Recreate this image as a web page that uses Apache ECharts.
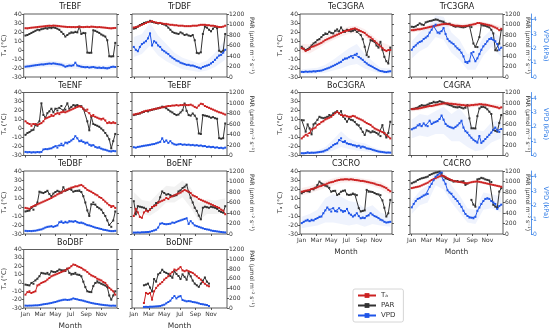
<!DOCTYPE html>
<html><head><meta charset="utf-8">
<script src="https://cdn.jsdelivr.net/npm/echarts@6/dist/echarts.min.js"></script>
<style>html,body{margin:0;padding:0;background:#fff}#c{width:550px;height:331px}</style>
</head><body><div id="c"></div>
<script>
// Day of year of each 8-day composite
const DOY = [1,9,17,25,33,41,49,57,65,73,81,89,97,105,113,121,129,137,145,153,161,169,177,185,193,201,209,217,225,233,241,249,257,265,273,281,289,297,305,313,321,329,337,345,353,361];
// Day of year for the spread (shaded band) values
const BAND_DOY = [1,33,65,97,129,161,193,225,257,289,321,361];
const MONTH_TICKS = [1, 60, 121, 182, 244, 305];
const MONTH_LABELS = ['Jan','Mar','May','Jul','Sep','Nov'];
const VPD_TICKS = [0, 1, 2, 3, 4];

const TrEBF_Ta = [24.2,24.0,24.5,24.8,25.0,25.2,25.5,25.8,26.0,26.2,26.5,26.8,27.0,26.8,27.2,27.0,26.8,26.5,26.2,26.0,25.8,25.5,25.6,25.4,25.5,25.3,25.6,25.8,25.5,25.4,25.6,25.8,25.5,26.0,25.8,25.6,25.3,25.5,25.2,25.0,24.8,24.5,24.2,24.0,24.3,24.5];
const TrEBF_PAR = [790,800,820,840,860,880,900,890,910,920,930,920,940,930,945,935,920,900,860,820,770,800,830,850,845,860,850,960,820,840,835,465,460,462,890,880,860,840,810,790,770,700,395,390,395,650];
const TrEBF_VPD = [0.72,0.74,0.75,0.78,0.80,0.82,0.84,0.86,0.88,0.87,0.90,0.92,0.94,0.92,0.95,0.93,0.90,0.88,0.86,0.80,0.72,0.76,0.80,0.78,0.82,1.00,0.80,0.76,0.72,0.70,0.68,0.70,0.66,0.68,0.70,0.66,0.64,0.66,0.63,0.66,0.62,0.60,0.64,0.70,0.72,0.70];
const TrEBF_VPD_LO = [0.55,0.6,0.68,0.72,0.7,0.6,0.58,0.55,0.52,0.5,0.48,0.55];
const TrEBF_VPD_HI = [0.9,0.98,1.08,1.15,1.1,0.98,0.98,0.9,0.85,0.82,0.8,0.88];

const TrDBF_Ta = [25,25.5,26,27,28,29,30,31,31.5,32,31,30.5,30,30,29.5,29,29,28.5,28,28,27.5,27.5,27,27,27,26.5,26.5,26.5,26.5,27,27,27,27.5,28,28,28,27.5,27.5,27,27,26.5,26,25.5,25.5,26,27];
const TrDBF_PAR = [920,930,960,990,1010,1030,1040,1050,1070,1050,1040,1030,1020,1030,1010,1000,980,940,900,860,840,830,820,850,830,800,810,790,780,800,700,460,450,470,820,960,940,900,870,920,960,930,500,480,500,820];
const TrDBF_VPD = [2.1,1.9,1.8,2.1,2.3,2.4,2.5,2.7,3.05,2.2,2.5,2.4,2.2,2.1,1.9,1.8,1.7,1.6,1.45,1.35,1.25,1.15,1.1,1.0,0.95,0.9,0.85,0.85,0.8,0.8,0.75,0.7,0.65,0.6,0.7,0.75,0.8,0.85,0.95,1.05,1.2,1.35,1.5,1.55,1.7,1.9];
const TrDBF_VPD_LO = [1.4,1.6,2.2,1.5,1.1,0.8,0.55,0.45,0.35,0.45,0.7,1.2];
const TrDBF_VPD_HI = [2.8,3.0,3.8,2.9,2.3,1.7,1.35,1.15,0.95,1.15,1.7,2.6];

const TeENF_Ta = [8,6,5,3,5,5,4,5,6,8,11,12,13,15,14,16,17,16,18,19,18,19,20,21,22,23,24,25,24,22,20,21,17,14,15,13,12,11,10,11,9,6,7,6,7,6];
const TeENF_PAR = [394,429,446,480,490,583,566,651,994,771,720,806,840,891,823,891,857,908,943,857,874,994,891,926,960,943,960,943,940,891,857,651,480,737,600,583,566,548,514,480,429,377,309,137,274,411];
const TeENF_VPD = [0.25,0.22,0.24,0.20,0.23,0.21,0.24,0.22,0.25,0.42,0.45,0.44,0.48,0.50,0.58,0.65,0.55,0.70,0.82,0.70,0.90,0.85,0.95,1.05,1.15,1.35,1.20,1.00,1.05,0.95,0.85,0.90,0.75,0.68,0.72,0.60,0.55,0.58,0.48,0.42,0.40,0.35,0.30,0.28,0.32,0.30];

const TeEBF_Ta = [15.5,16,16.5,17,18,19,19.5,20,20.5,21,21.5,22,22.5,23,23.5,24,24.5,25,25,25.5,25.5,26,25.5,26,26,26.5,26,26,26.5,25.5,24,23,25.5,27.5,27,25,24,23,22,21,20,19,18,17.5,16.5,15.5];
const TeEBF_PAR = [770,780,790,800,820,830,850,840,860,870,880,890,900,910,930,920,900,870,840,820,790,770,780,820,860,990,850,770,760,800,760,700,420,410,770,760,750,740,720,730,710,700,330,320,330,610];
const TeEBF_VPD = [0.58,0.55,0.6,0.62,0.65,0.68,0.7,0.72,0.75,0.78,0.8,0.85,0.9,0.95,1.2,0.95,1.05,0.88,1.0,0.85,0.78,0.75,0.78,0.8,0.75,0.77,0.74,0.76,0.72,0.74,0.7,0.72,0.68,0.7,0.65,0.66,0.6,0.62,0.58,0.6,0.55,0.57,0.52,0.54,0.5,0.55];

const TeDBF_Ta = [-1,-1.5,-2,0,1,2,3,4,5,6,7,8,9,10,11.5,12.5,14,15,16,17.5,18.5,19.5,20.5,21.5,22,23,23,24,24.5,23,21,19,18,17,15.5,14,13,11,10,8,6,4,2,0,1,-1];
const TeDBF_PAR = [429,440,446,497,463,540,600,806,790,780,800,823,760,720,771,800,823,806,789,891,823,840,857,850,806,820,823,830,800,720,600,450,343,566,600,560,514,490,463,400,343,260,171,137,257,429];
const TeDBF_VPD = [0.22,0.2,0.21,0.2,0.22,0.23,0.26,0.3,0.32,0.38,0.45,0.5,0.52,0.55,0.5,0.55,0.6,0.82,0.88,0.78,0.85,0.8,0.9,0.88,0.85,0.9,0.82,0.78,0.8,0.75,0.68,0.62,0.6,0.55,0.5,0.45,0.42,0.38,0.35,0.3,0.28,0.25,0.22,0.2,0.2,0.22];

const BoENF_Ta = [-10,-2,-6,-11,-12,-6,-4,-5,-3,0,1,2,5,6,7,8,10,9,11,12,13,14,15,16,17.5,19,18,17,15.5,13,12,11,9,8,7,6,5,4,3,2,1,0,-1,-3,-4,-8];
const BoENF_PAR = [625,375,530,520,510,500,480,440,470,500,540,590,600,700,810,780,750,760,740,720,730,740,810,830,875,900,940,800,690,600,500,440,350,280,500,520,510,500,520,510,500,480,440,420,405,530];
const BoENF_VPD = [0.1,0.1,0.11,0.1,0.12,0.12,0.13,0.14,0.16,0.2,0.25,0.3,0.45,0.72,0.75,0.7,0.68,0.7,0.72,0.8,0.78,0.85,0.9,0.95,1.0,1.05,1.1,0.7,0.9,0.75,0.6,0.55,0.5,0.45,0.4,0.35,0.32,0.3,0.25,0.22,0.2,0.18,0.16,0.14,0.12,0.11];
const BoENF_PAR_LO = [450,380,350,450,600,600,700,500,250,380,380,400];
const BoENF_PAR_HI = [800,650,620,780,920,900,1020,880,600,660,640,680];

const BoDBF_Ta = [-14,-11,-10,-12,-11,-10,-3,-2,0,1,2,4,6,8,9,10,11,12,13,14,15,17,18,20,22,21.5,20,19,18,16,15,13,11,9,8,7,5,4,3,1,0,-3,-6,-8,-10,-14];
const BoDBF_PAR = [480,470,463,514,497,566,600,651,720,710,703,720,686,754,740,737,760,789,770,771,760,806,720,686,700,720,686,680,651,540,429,343,330,326,450,514,548,520,497,480,463,429,257,171,257,343];
const BoDBF_VPD = [0.18,0.17,0.18,0.18,0.19,0.2,0.2,0.22,0.25,0.28,0.3,0.32,0.35,0.38,0.42,0.45,0.5,0.55,0.58,0.62,0.63,0.6,0.62,0.65,0.72,0.68,0.65,0.6,0.58,0.55,0.5,0.46,0.42,0.38,0.35,0.32,0.3,0.27,0.25,0.23,0.21,0.2,0.18,0.17,0.18,0.17];

const BoDNF_Ta = [null,null,null,null,null,-24,-12,-13,-12,-20,-10,-6,-3,-1,1,4,6,8,11,13,16,15,17,19,15,14,15,14,13,12,10,8,6,4,1,-1,-3,-4,null,null,null,null,null,null,null,null];
const BoDNF_PAR = [null,null,null,null,null,466,480,500,420,340,594,540,690,720,785,740,720,700,657,620,753,700,657,594,690,640,580,720,650,562,500,466,434,500,560,626,540,500,null,null,null,null,null,null,null,null];
const BoDNF_VPD = [null,null,null,null,null,0.08,0.09,0.08,0.1,0.1,0.11,0.12,0.13,0.15,0.2,0.25,0.35,0.45,0.55,0.75,0.9,0.72,0.85,0.9,0.6,0.55,0.5,0.52,0.5,0.45,0.43,0.4,0.35,0.3,0.28,0.25,0.22,0.15,null,null,null,null,null,null,null,null];

const TeC3GRA_Ta = [2,1,-1,0,1,3.5,4,5,6,7,8,9.5,11,12,13,14,15,16,17,18,19,20,21,21.5,22,23,23.5,24,23,22,21,20,19,17,15,14,12,10,8,6,4,2,0,-1,0,0];
const TeC3GRA_PAR = [576,540,512,530,560,600,639,660,703,720,760,799,830,820,862,840,830,881,907,870,944,880,860,900,880,870,880,900,860,880,799,720,576,417,384,703,690,670,600,560,670,520,384,300,257,560];
const TeC3GRA_VPD = [0.36,0.35,0.38,0.36,0.38,0.37,0.4,0.38,0.42,0.43,0.45,0.5,0.55,0.6,0.65,0.72,0.78,0.85,0.92,1.0,1.06,1.2,1.29,1.3,1.38,1.45,1.35,1.55,1.62,1.4,1.3,1.2,1.06,0.95,0.85,0.78,0.71,0.62,0.55,0.47,0.42,0.4,0.36,0.35,0.38,0.4];
const TeC3GRA_Ta_LO = [-3,-4,1,7,11,15,18,19,15,8,-1,-5];
const TeC3GRA_Ta_HI = [7,6,11,15,19,23,26,27,23,16,9,5];
const TeC3GRA_VPD_LO = [0.2,0.2,0.25,0.3,0.45,0.6,0.8,0.9,0.6,0.4,0.25,0.2];
const TeC3GRA_VPD_HI = [0.55,0.6,0.65,0.85,1.2,1.6,2.0,2.3,1.6,1.1,0.65,0.6];

const TrC3GRA_Ta = [22,22,22.5,23,23,23.5,24,24.5,25,25.5,26,26.5,27,27.5,28,28.5,28.8,29,29,28.5,28,27.5,27,27,26.8,26.5,26.5,26.8,27,27.5,28,28.5,29,30,30,29.5,29,28.5,28,27.5,27,26,25,24,22,23.5];
const TrC3GRA_PAR = [957,950,965,990,1021,1000,990,1040,1053,1065,1072,1085,1098,1090,1070,1060,1053,1020,1008,1015,990,970,957,965,960,950,945,955,970,980,950,638,574,570,760,1000,980,975,960,945,900,830,510,505,638,900];
const TrC3GRA_VPD = [1.9,2.1,2.2,2.35,2.45,2.5,2.65,2.75,2.85,3.1,3.3,3.55,3.65,3.1,3.05,3.2,3.42,3.0,2.65,2.5,2.4,2.3,2.14,2.0,1.9,1.7,1.44,1.05,0.98,1.1,1.67,1.75,1.1,1.3,1.6,1.9,2.14,2.3,2.49,2.65,2.72,2.6,2.5,2.3,1.9,2.05];
const TrC3GRA_Ta_LO = [19.5,20.5,22.5,24.5,26.3,25.5,24.3,24.5,26.5,26.5,24.5,21];
const TrC3GRA_Ta_HI = [24.5,25.5,27.5,29.5,31.3,30.5,29.3,29.5,31.5,31.5,29.5,26];
const TrC3GRA_VPD_LO = [1.3,1.8,2.1,2.8,2.6,1.7,1.2,0.5,0.5,1.5,2.1,1.4];
const TrC3GRA_VPD_HI = [2.5,3.1,3.5,4.3,4.2,3.1,2.6,1.6,1.7,2.8,3.3,2.7];

const BoC3GRA_Ta = [-11,-9,-7,-8,-5,-1,0,1,4,5,7,8,10,11,12,13,15,17,18.5,17,15,14,14.5,13.5,13,13,14,13.5,12,11,10,9,7.5,6,5,4,2,0,-1,-2,-3,-4,-5,-7,-9,-11];
const BoC3GRA_PAR = [675,670,454,593,516,403,593,612,680,737,720,710,720,737,771,760,802,820,845,800,845,740,700,643,703,680,670,640,593,575,516,450,391,480,463,440,463,450,429,400,370,579,420,343,430,643];
const BoC3GRA_VPD = [0.16,0.15,0.17,0.22,0.18,0.2,0.19,0.2,0.22,0.24,0.26,0.28,0.35,0.4,0.5,0.6,0.72,0.8,0.85,1.08,1.2,0.95,1.0,0.85,0.8,0.78,0.72,0.7,0.62,0.68,0.55,0.62,0.58,0.5,0.48,0.45,0.4,0.36,0.32,0.28,0.26,0.24,0.22,0.2,0.21,0.2];
const BoC3GRA_VPD_LO = [0.08,0.08,0.1,0.15,0.35,0.6,0.45,0.35,0.3,0.2,0.12,0.1];
const BoC3GRA_VPD_HI = [0.25,0.3,0.35,0.6,1.1,1.7,1.2,0.95,0.85,0.6,0.4,0.3];

const C4GRA_Ta = [21.5,21.5,22,22,22.5,23,23.5,24,24.5,25,25,25.5,26,26.5,27,27.5,27.8,28,28,27.5,27.5,27,27,26.5,26.5,26,26,25.5,25.5,25.5,26,26,26.5,26.5,27,27,26.5,26.5,26,25.5,25,24.5,24,23.5,22.5,23.5];
const C4GRA_PAR = [884,890,900,910,940,960,950,945,970,992,1000,1023,1010,1015,1035,1023,1010,990,975,960,950,928,920,915,925,910,897,910,960,707,518,518,515,750,897,930,928,915,880,834,790,486,470,455,620,771];
const C4GRA_VPD = [1.83,1.9,1.95,2.1,2.19,2.05,2.24,2.1,2.05,2.43,2.2,2.3,2.35,2.4,2.55,2.79,2.5,2.2,2.07,2.0,1.95,1.9,2.0,2.1,2.25,2.43,1.95,1.7,1.6,1.4,1.24,1.1,1.0,0.9,1.36,0.88,1.0,1.15,1.3,1.45,1.6,1.8,1.95,1.75,1.65,1.85];
const C4GRA_Ta_LO = [19,20,22,23.5,25.3,25,24,23,24,24,22.5,21];
const C4GRA_Ta_HI = [24,25,27,28.5,30.3,30,29,28,29,29,27.5,26];
const C4GRA_VPD_LO = [1.2,1.4,1.3,1.5,1.5,1.0,1.0,0.6,0.3,0.4,0.9,1.2];
const C4GRA_VPD_HI = [2.5,2.9,2.8,3.1,3.4,2.9,3.3,2.6,1.8,1.7,2.3,2.5];

const C3CRO_Ta = [17,17.5,18,18.5,19,20,20.5,21,22,23,23.5,24.5,25,26,27,27.5,28,29,29.5,30,30.5,30.5,30.8,30.8,30.5,30.8,30.5,30,29.8,29.5,29,29,28.5,28,27.5,27,26.5,26,25,24.5,24,23,22,21,19,17.5];
const C3CRO_PAR = [776,800,821,815,806,857,850,883,934,998,960,943,920,908,880,806,820,823,744,760,806,823,830,754,744,750,770,754,740,492,429,440,450,840,806,806,800,780,760,754,740,640,500,333,394,650];
const C3CRO_VPD = [0.76,0.85,0.93,0.99,0.9,0.99,0.95,1.05,1.11,1.2,1.22,1.45,1.65,1.85,1.7,1.57,1.8,1.6,1.57,1.8,1.65,1.55,1.6,1.75,1.45,1.35,1.22,1.3,1.45,1.25,1.1,1.15,1.11,1.25,1.3,1.45,1.35,1.25,1.2,1.11,1.0,0.95,0.85,0.8,0.82,0.85];
const C3CRO_Ta_LO = [13,15,18,21,24,27,27.5,27,25.5,23,20,14];
const C3CRO_Ta_HI = [21,23,26,29,32,34,34,33,31.5,30,28,21];
const C3CRO_VPD_LO = [0.4,0.5,0.6,0.8,0.8,0.7,0.6,0.7,0.5,0.7,0.6,0.5];
const C3CRO_VPD_HI = [1.2,1.4,1.7,2.5,2.8,2.6,2.3,2.2,1.8,2.0,1.5,1.3];

const C4CRO_Ta = [21,21.5,22,22.5,23,24,25,26,27,28.5,30,31,32,33,34,35,34.5,33.5,32,31,30,29,28.5,28,28,27.5,27,26.5,26.3,27,27.5,28,28.2,28.5,28,27.5,27,26.5,26,25.5,25,24.5,24,23.5,23,22.5];
const C4CRO_PAR = [966,985,1000,1029,1045,1061,1070,1080,1093,1124,1140,1156,1170,1175,1187,1156,1093,1060,1048,1030,1020,998,1005,1010,990,1000,1005,935,960,null,650,560,520,1040,1050,1070,1060,1040,1030,1020,990,556,520,500,808,872];
const C4CRO_VPD = [1.86,2.1,2.3,2.45,2.5,2.6,2.69,2.75,2.8,3.29,3.5,3.76,4.0,4.12,4.24,4.29,3.76,3.5,3.05,2.9,2.81,2.6,2.45,2.3,2.1,1.9,1.62,1.4,1.26,1.15,1.14,1.1,1.2,1.62,1.85,2.1,2.3,2.45,2.5,2.45,2.3,2.2,2.1,1.75,1.95,2.05];
const C4CRO_VPD_LO = [1.4,2.0,2.2,3.4,3.1,2.2,1.5,0.8,0.7,1.7,1.8,1.5];
const C4CRO_VPD_HI = [2.3,3.0,3.4,4.4,4.4,3.4,2.7,1.8,1.7,2.9,2.8,2.6];

const PANELS = [
  {title:'TrEBF', ta:TrEBF_Ta, par:TrEBF_PAR, vpd:TrEBF_VPD, col:0, row:0, vpdBand:[TrEBF_VPD_LO, TrEBF_VPD_HI]},
  {title:'TrDBF', ta:TrDBF_Ta, par:TrDBF_PAR, vpd:TrDBF_VPD, col:1, row:0, vpdBand:[TrDBF_VPD_LO, TrDBF_VPD_HI]},
  {title:'TeENF', ta:TeENF_Ta, par:TeENF_PAR, vpd:TeENF_VPD, col:0, row:1},
  {title:'TeEBF', ta:TeEBF_Ta, par:TeEBF_PAR, vpd:TeEBF_VPD, col:1, row:1},
  {title:'TeDBF', ta:TeDBF_Ta, par:TeDBF_PAR, vpd:TeDBF_VPD, col:0, row:2},
  {title:'BoENF', ta:BoENF_Ta, par:BoENF_PAR, vpd:BoENF_VPD, col:1, row:2, parBand:[BoENF_PAR_LO, BoENF_PAR_HI]},
  {title:'BoDBF', ta:BoDBF_Ta, par:BoDBF_PAR, vpd:BoDBF_VPD, col:0, row:3},
  {title:'BoDNF', ta:BoDNF_Ta, par:BoDNF_PAR, vpd:BoDNF_VPD, col:1, row:3},
  {title:'TeC3GRA', ta:TeC3GRA_Ta, par:TeC3GRA_PAR, vpd:TeC3GRA_VPD, col:2, row:0, taBand:[TeC3GRA_Ta_LO, TeC3GRA_Ta_HI], vpdBand:[TeC3GRA_VPD_LO, TeC3GRA_VPD_HI]},
  {title:'TrC3GRA', ta:TrC3GRA_Ta, par:TrC3GRA_PAR, vpd:TrC3GRA_VPD, col:3, row:0, taBand:[TrC3GRA_Ta_LO, TrC3GRA_Ta_HI], vpdBand:[TrC3GRA_VPD_LO, TrC3GRA_VPD_HI]},
  {title:'BoC3GRA', ta:BoC3GRA_Ta, par:BoC3GRA_PAR, vpd:BoC3GRA_VPD, col:2, row:1, vpdBand:[BoC3GRA_VPD_LO, BoC3GRA_VPD_HI]},
  {title:'C4GRA', ta:C4GRA_Ta, par:C4GRA_PAR, vpd:C4GRA_VPD, col:3, row:1, taBand:[C4GRA_Ta_LO, C4GRA_Ta_HI], vpdBand:[C4GRA_VPD_LO, C4GRA_VPD_HI]},
  {title:'C3CRO', ta:C3CRO_Ta, par:C3CRO_PAR, vpd:C3CRO_VPD, col:2, row:2, taBand:[C3CRO_Ta_LO, C3CRO_Ta_HI], vpdBand:[C3CRO_VPD_LO, C3CRO_VPD_HI]},
  {title:'C4CRO', ta:C4CRO_Ta, par:C4CRO_PAR, vpd:C4CRO_VPD, col:3, row:2, vpdBand:[C4CRO_VPD_LO, C4CRO_VPD_HI]}
];

const COLS = [{left:23.5,width:93.5},{left:132,width:95},{left:300,width:92},{left:410,width:94}];
const ROW_TOPS = [14, 92.5, 171, 249.5];
const PH = 63;
const RED = '#cc2222', BLK = '#333333', BLUE = '#1f55e8', BLUE_AX = '#2f7be6', AX = '#333';
const RED_BAND = 'rgba(204,34,34,0.08)', BLK_BAND = 'rgba(0,0,0,0.05)', BLUE_BAND = 'rgba(31,85,232,0.07)';
const FONT = 'DejaVu Sans';

const grids = [], xAxes = [], yAxes = [], series = [], titles = [];
PANELS.forEach((p, k) => {
  const c = COLS[p.col];
  const top = ROW_TOPS[p.row];
  const isBottom = (p.col < 2 && p.row === 3) || (p.col >= 2 && p.row === 2);
  const isLeft = p.col === 0 || p.col === 2;
  const isRight = !isLeft;
  const isD = p.col === 3;
  grids.push({left:c.left, top:top, width:c.width, height:PH, show:true, borderColor:AX, borderWidth:0.8, backgroundColor:'transparent'});
  titles.push({text:p.title, left:c.left + c.width/2, top:top - 11, textAlign:'center', padding:0,
    textStyle:{fontSize:8, fontWeight:'normal', color:'#222', fontFamily:FONT}});
  const tick = {show:true, length:2, lineStyle:{color:AX, width:0.8}};
  xAxes.push({gridIndex:k, type:'value', min:-6, max:368,
    axisLine:{show:false, onZero:false}, splitLine:{show:false},
    axisTick:Object.assign({customValues:MONTH_TICKS}, tick),
    axisLabel:{show:isBottom, customValues:MONTH_TICKS, formatter:v => MONTH_LABELS[MONTH_TICKS.indexOf(v)] || '',
      fontSize:6, margin:3, color:AX, fontFamily:FONT},
    name:isBottom ? 'Month' : '', nameLocation:'middle', nameGap:14,
    nameTextStyle:{fontSize:7.5, color:AX, fontFamily:FONT}});
  yAxes.push({gridIndex:k, type:'value', position:'left', min:-30, max:40, interval:10,
    axisLine:{show:false, onZero:false}, splitLine:{show:false}, axisTick:tick,
    axisLabel:{show:isLeft, fontSize:6, margin:2, color:AX, fontFamily:FONT},
    name:isLeft ? 'Tₐ (°C)' : '', nameLocation:'middle', nameGap:15, nameRotate:90,
    nameTextStyle:{fontSize:6.5, color:AX, fontFamily:FONT}});
  yAxes.push({gridIndex:k, type:'value', position:'right', min:0, max:1200, interval:200,
    axisLine:{show:false, onZero:false}, splitLine:{show:false}, axisTick:tick,
    axisLabel:{show:isRight, fontSize:6, margin:2, color:AX, fontFamily:FONT, formatter:v => String(v)},
    name:isRight ? 'PAR (μmol m⁻² s⁻¹)' : '', nameLocation:'middle', nameGap:19, nameRotate:-90,
    nameTextStyle:{fontSize:6, color:AX, fontFamily:FONT}});
  yAxes.push({gridIndex:k, type:'value', position:'right', offset:28, min:0, max:4.4, show:isD,
    axisLine:{show:true, onZero:false, lineStyle:{color:BLUE_AX, width:0.8}}, splitLine:{show:false},
    axisTick:{show:true, length:2, customValues:VPD_TICKS, lineStyle:{color:BLUE_AX, width:0.8}},
    axisLabel:{show:true, customValues:VPD_TICKS, fontSize:6, margin:2, color:BLUE_AX, fontFamily:FONT},
    name:'VPD (kPa)', nameLocation:'middle', nameGap:11, nameRotate:-90,
    nameTextStyle:{fontSize:6.5, color:BLUE_AX, fontFamily:FONT}});
  const band = (b, yi, color) => {
    if (!b) return;
    const [lo, hi] = b;
    series.push({type:'custom', xAxisIndex:k, yAxisIndex:yi, silent:true, clip:true, z:1, animation:false,
      data: BAND_DOY.map((d, i) => [d, lo[i], hi[i]]),
      encode:{x:0, y:[1, 2]},
      renderItem:(params, api) => {
        if (params.dataIndex !== 0) return;
        const pts = [];
        for (let i = 0; i < BAND_DOY.length; i++) pts.push(api.coord([BAND_DOY[i], hi[i]]));
        for (let i = BAND_DOY.length - 1; i >= 0; i--) pts.push(api.coord([BAND_DOY[i], lo[i]]));
        return {type:'polygon', shape:{points:pts}, style:{fill:color, stroke:null}};
      }});
  };
  band(p.parBand, 3*k+1, BLK_BAND);
  band(p.taBand, 3*k, RED_BAND);
  band(p.vpdBand, 3*k+2, BLUE_BAND);
  const mk = (name, arr, yi, color) => ({
    name, type:'line', xAxisIndex:k, yAxisIndex:yi,
    data: DOY.map((d, i) => [d, arr[i]]),
    connectNulls:false, symbol:'rect', symbolSize:2, showSymbol:true,
    lineStyle:{color, width:1}, itemStyle:{color}, animation:false, silent:true, z:3
  });
  series.push(mk('PAR', p.par, 3*k+1, BLK));
  series.push(mk('Tₐ', p.ta, 3*k, RED));
  series.push(mk('VPD', p.vpd, 3*k+2, BLUE));
});

const chart = echarts.init(document.getElementById('c'), null, {renderer:'canvas'});
chart.setOption({
  animation:false,
  backgroundColor:'#fff',
  textStyle:{fontFamily:FONT},
  title:titles,
  grid:grids, xAxis:xAxes, yAxis:yAxes, series,
  legend:{orient:'vertical', left:353, top:289, itemWidth:18, itemHeight:6, itemGap:3,
    data:['Tₐ','PAR','VPD'], textStyle:{fontSize:7, color:AX, fontFamily:FONT},
    borderColor:'#ccc', borderWidth:0.8, borderRadius:2, padding:[3,8,3,4]}
});
</script></body></html>
